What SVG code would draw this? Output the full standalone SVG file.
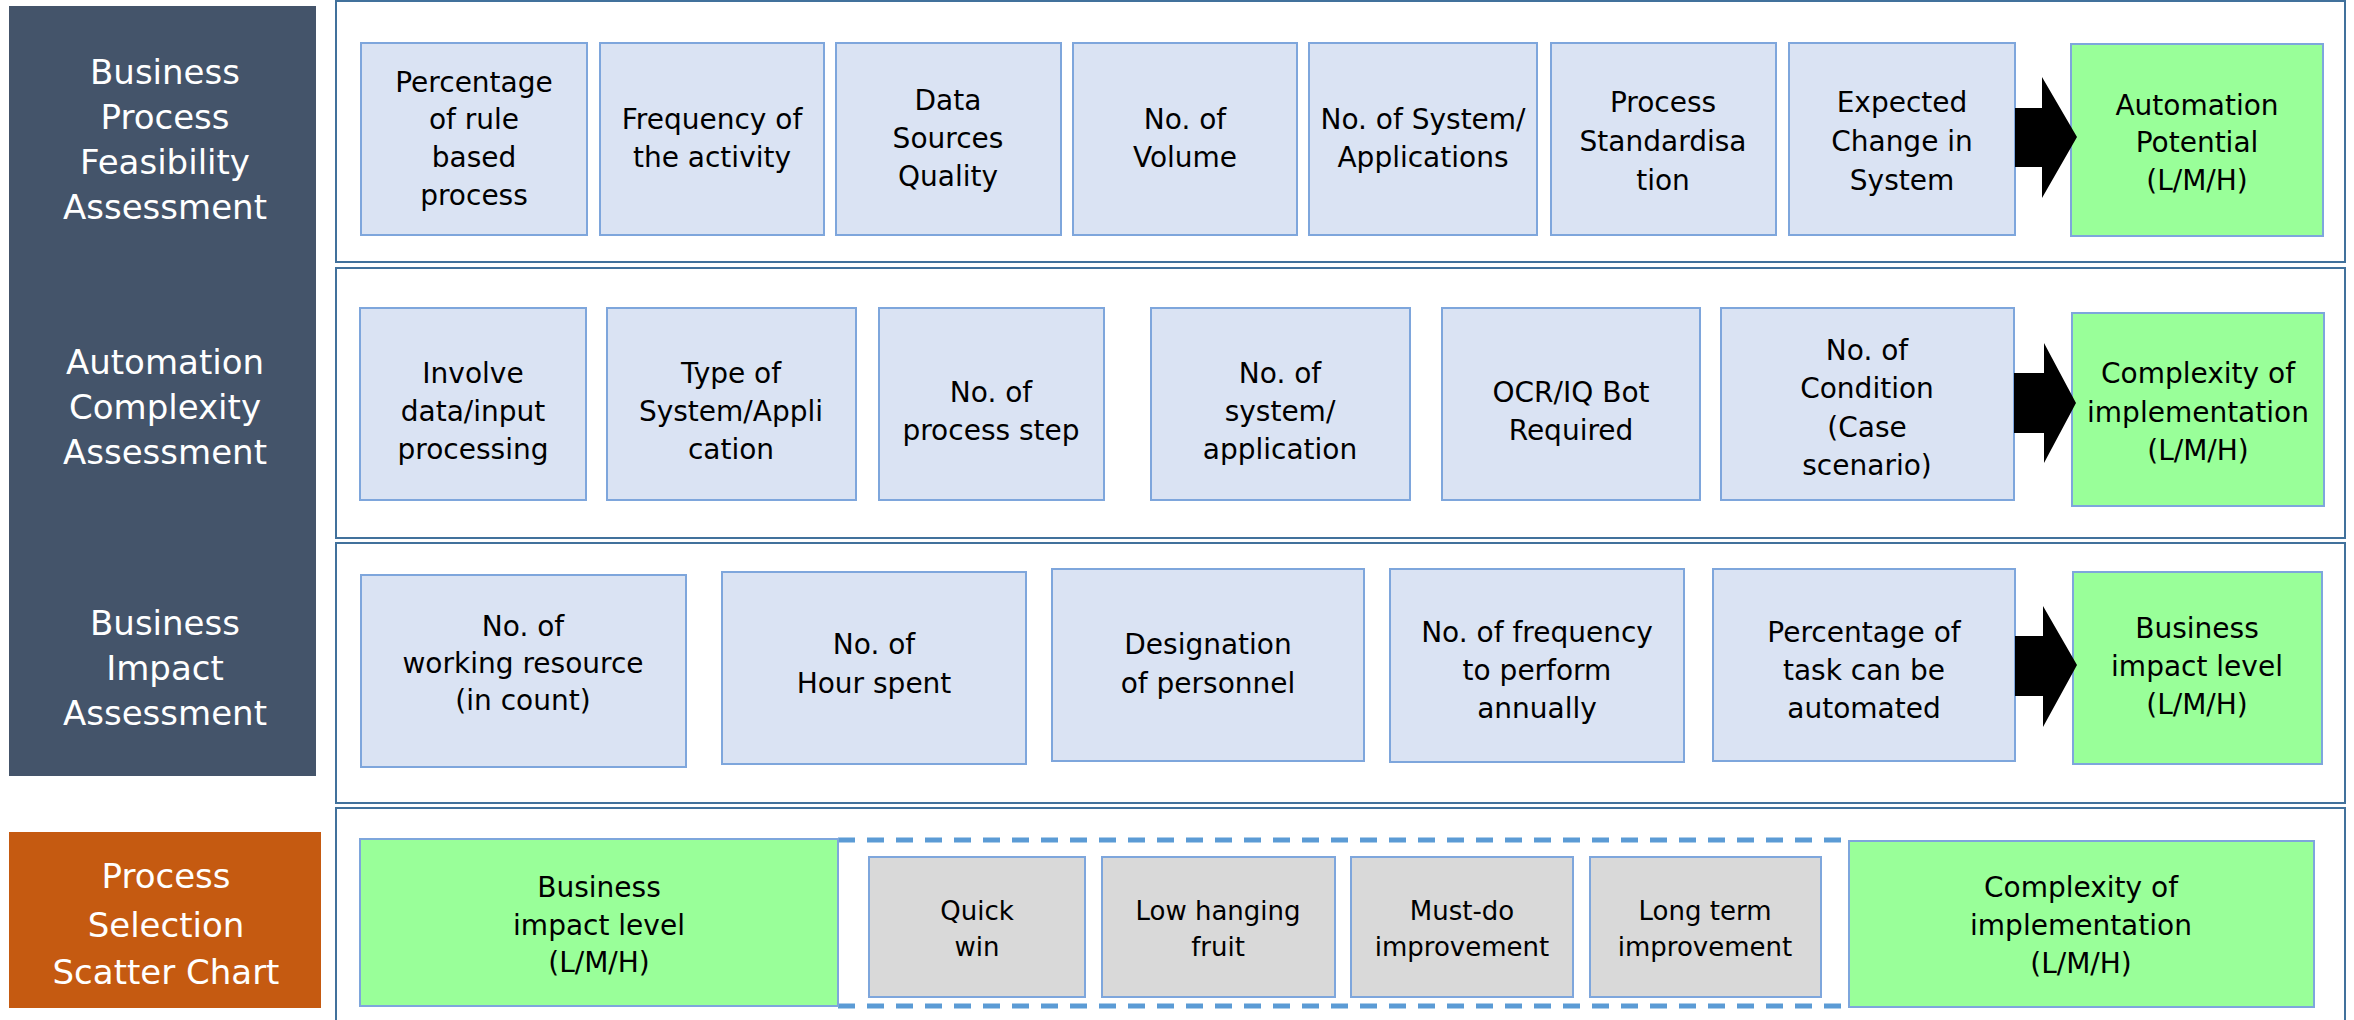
<svg xmlns="http://www.w3.org/2000/svg" width="2354" height="1020" viewBox="0 0 2354 1020">
<style>
.bg{fill:#ffffff}
.cont{fill:#ffffff;stroke:#41719C;stroke-width:2}
.box{fill:#DAE3F3;stroke:#7EA6DC;stroke-width:2}
.grn{fill:#99FF99;stroke:#7EA6DC;stroke-width:2}
.gry{fill:#D9D9D9;stroke:#7EA6DC;stroke-width:2}
.dash{fill:none;stroke:#5B9BD5;stroke-width:5;stroke-dasharray:17 12}
.t{font-family:"DejaVu Sans","Liberation Sans",sans-serif;font-size:28px;text-anchor:middle;fill:#000000}
.s{font-family:"DejaVu Sans","Liberation Sans",sans-serif;font-size:26px;text-anchor:middle;fill:#000000}
.h{font-family:"DejaVu Sans","Liberation Sans",sans-serif;font-size:34px;text-anchor:middle;fill:#ffffff}
.arr{fill:#000000}
</style>
<rect class="bg" x="0" y="0" width="2354" height="1020"/>

<g id="row-containers">
<rect class="cont" x="336" y="1" width="2009" height="261"/>
<rect class="cont" x="336" y="268" width="2009" height="270"/>
<rect class="cont" x="336" y="543" width="2009" height="260"/>
<rect class="cont" x="336" y="808" width="2009" height="220"/>
</g>

<g id="panel-assessments">
<rect x="9" y="6" width="307" height="770" fill="#44546A"/>
<text class="h" x="165" y="84">Business</text>
<text class="h" x="165" y="129">Process</text>
<text class="h" x="165" y="174">Feasibility</text>
<text class="h" x="165" y="219">Assessment</text>
<text class="h" x="165" y="374">Automation</text>
<text class="h" x="165" y="419">Complexity</text>
<text class="h" x="165" y="464">Assessment</text>
<text class="h" x="165" y="635">Business</text>
<text class="h" x="165" y="680">Impact</text>
<text class="h" x="165" y="725">Assessment</text>
</g>

<g id="panel-scatter">
<rect x="9" y="832" width="312" height="176" fill="#C55A11"/>
<text class="h" x="166" y="888">Process</text>
<text class="h" x="166" y="937">Selection</text>
<text class="h" x="166" y="984">Scatter Chart</text>
</g>

<!-- Row 1 -->
<g id="r1-rule-based">
<rect class="box" x="361" y="43" width="226" height="192"/>
<text class="t" x="474" y="92">Percentage</text>
<text class="t" x="474" y="129">of rule</text>
<text class="t" x="474" y="167">based</text>
<text class="t" x="474" y="205">process</text>
</g>
<g id="r1-frequency">
<rect class="box" x="600" y="43" width="224" height="192"/>
<text class="t" x="712" y="129">Frequency of</text>
<text class="t" x="712" y="167">the activity</text>
</g>
<g id="r1-data-sources">
<rect class="box" x="836" y="43" width="225" height="192"/>
<text class="t" x="948" y="110">Data</text>
<text class="t" x="948" y="148">Sources</text>
<text class="t" x="948" y="186">Quality</text>
</g>
<g id="r1-volume">
<rect class="box" x="1073" y="43" width="224" height="192"/>
<text class="t" x="1185" y="129">No. of</text>
<text class="t" x="1185" y="167">Volume</text>
</g>
<g id="r1-systems">
<rect class="box" x="1309" y="43" width="228" height="192"/>
<text class="t" x="1423" y="129">No. of System/</text>
<text class="t" x="1423" y="167">Applications</text>
</g>
<g id="r1-standardisation">
<rect class="box" x="1551" y="43" width="225" height="192"/>
<text class="t" x="1663" y="112">Process</text>
<text class="t" x="1663" y="151">Standardisa</text>
<text class="t" x="1663" y="190">tion</text>
</g>
<g id="r1-change">
<rect class="box" x="1789" y="43" width="226" height="192"/>
<text class="t" x="1902" y="112">Expected</text>
<text class="t" x="1902" y="151">Change in</text>
<text class="t" x="1902" y="190">System</text>
</g>
<g id="r1-automation-potential">
<rect class="grn" x="2071" y="44" width="252" height="192"/>
<text class="t" x="2197" y="115">Automation</text>
<text class="t" x="2197" y="152">Potential</text>
<text class="t" x="2197" y="190">(L/M/H)</text>
</g>

<!-- Row 2 -->
<g id="r2-data-input">
<rect class="box" x="360" y="308" width="226" height="192"/>
<text class="t" x="473" y="383">Involve</text>
<text class="t" x="473" y="421">data/input</text>
<text class="t" x="473" y="459">processing</text>
</g>
<g id="r2-type-system">
<rect class="box" x="607" y="308" width="249" height="192"/>
<text class="t" x="731" y="383">Type of</text>
<text class="t" x="731" y="421">System/Appli</text>
<text class="t" x="731" y="459">cation</text>
</g>
<g id="r2-process-step">
<rect class="box" x="879" y="308" width="225" height="192"/>
<text class="t" x="991" y="402">No. of</text>
<text class="t" x="991" y="440">process step</text>
</g>
<g id="r2-system-app">
<rect class="box" x="1151" y="308" width="259" height="192"/>
<text class="t" x="1280" y="383">No. of</text>
<text class="t" x="1280" y="421">system/</text>
<text class="t" x="1280" y="459">application</text>
</g>
<g id="r2-ocr">
<rect class="box" x="1442" y="308" width="258" height="192"/>
<text class="t" x="1571" y="402">OCR/IQ Bot</text>
<text class="t" x="1571" y="440">Required</text>
</g>
<g id="r2-condition">
<rect class="box" x="1721" y="308" width="293" height="192"/>
<text class="t" x="1867" y="360">No. of</text>
<text class="t" x="1867" y="398">Condition</text>
<text class="t" x="1867" y="437">(Case</text>
<text class="t" x="1867" y="475">scenario)</text>
</g>
<g id="r2-complexity">
<rect class="grn" x="2072" y="313" width="252" height="193"/>
<text class="t" x="2198" y="383">Complexity of</text>
<text class="t" x="2198" y="422">implementation</text>
<text class="t" x="2198" y="460">(L/M/H)</text>
</g>

<!-- Row 3 -->
<g id="r3-resource">
<rect class="box" x="361" y="575" width="325" height="192"/>
<text class="t" x="523" y="636">No. of</text>
<text class="t" x="523" y="673">working resource</text>
<text class="t" x="523" y="710">(in count)</text>
</g>
<g id="r3-hours">
<rect class="box" x="722" y="572" width="304" height="192"/>
<text class="t" x="874" y="654">No. of</text>
<text class="t" x="874" y="693">Hour spent</text>
</g>
<g id="r3-designation">
<rect class="box" x="1052" y="569" width="312" height="192"/>
<text class="t" x="1208" y="654">Designation</text>
<text class="t" x="1208" y="693">of personnel</text>
</g>
<g id="r3-frequency">
<rect class="box" x="1390" y="569" width="294" height="193"/>
<text class="t" x="1537" y="642">No. of frequency</text>
<text class="t" x="1537" y="680">to perform</text>
<text class="t" x="1537" y="718">annually</text>
</g>
<g id="r3-percentage">
<rect class="box" x="1713" y="569" width="302" height="192"/>
<text class="t" x="1864" y="642">Percentage of</text>
<text class="t" x="1864" y="680">task can be</text>
<text class="t" x="1864" y="718">automated</text>
</g>
<g id="r3-business-impact">
<rect class="grn" x="2073" y="572" width="249" height="192"/>
<text class="t" x="2197" y="638">Business</text>
<text class="t" x="2197" y="676">impact level</text>
<text class="t" x="2197" y="714">(L/M/H)</text>
</g>

<!-- Row 4 -->
<g id="r4-quadrants-frame">
<line class="dash" x1="838" y1="840" x2="1848" y2="840"/>
<line class="dash" x1="838" y1="1006" x2="1848" y2="1006"/>
</g>
<g id="r4-business-impact">
<rect class="grn" x="360" y="839" width="478" height="167"/>
<text class="t" x="599" y="897">Business</text>
<text class="t" x="599" y="935">impact level</text>
<text class="t" x="599" y="972">(L/M/H)</text>
</g>
<g id="r4-quick-win">
<rect class="gry" x="869" y="857" width="216" height="140"/>
<text class="s" x="977" y="920">Quick</text>
<text class="s" x="977" y="956">win</text>
</g>
<g id="r4-low-hanging">
<rect class="gry" x="1102" y="857" width="233" height="140"/>
<text class="s" x="1218" y="920">Low hanging</text>
<text class="s" x="1218" y="956">fruit</text>
</g>
<g id="r4-must-do">
<rect class="gry" x="1351" y="857" width="222" height="140"/>
<text class="s" x="1462" y="920">Must-do</text>
<text class="s" x="1462" y="956">improvement</text>
</g>
<g id="r4-long-term">
<rect class="gry" x="1590" y="857" width="231" height="140"/>
<text class="s" x="1705" y="920">Long term</text>
<text class="s" x="1705" y="956">improvement</text>
</g>
<g id="r4-complexity">
<rect class="grn" x="1849" y="841" width="465" height="166"/>
<text class="t" x="2081" y="897">Complexity of</text>
<text class="t" x="2081" y="935">implementation</text>
<text class="t" x="2081" y="973">(L/M/H)</text>
</g>

<g id="connectors">
<polygon class="arr" points="2015,108 2042,108 2042,77 2077,137 2042,198 2042,167 2015,167"/>
<polygon class="arr" points="2014,373 2044,373 2044,343 2076,403 2044,463 2044,433 2014,433"/>
<polygon class="arr" points="2015,636 2043,636 2043,606 2077,665 2043,727 2043,696 2015,696"/>
</g>
</svg>
